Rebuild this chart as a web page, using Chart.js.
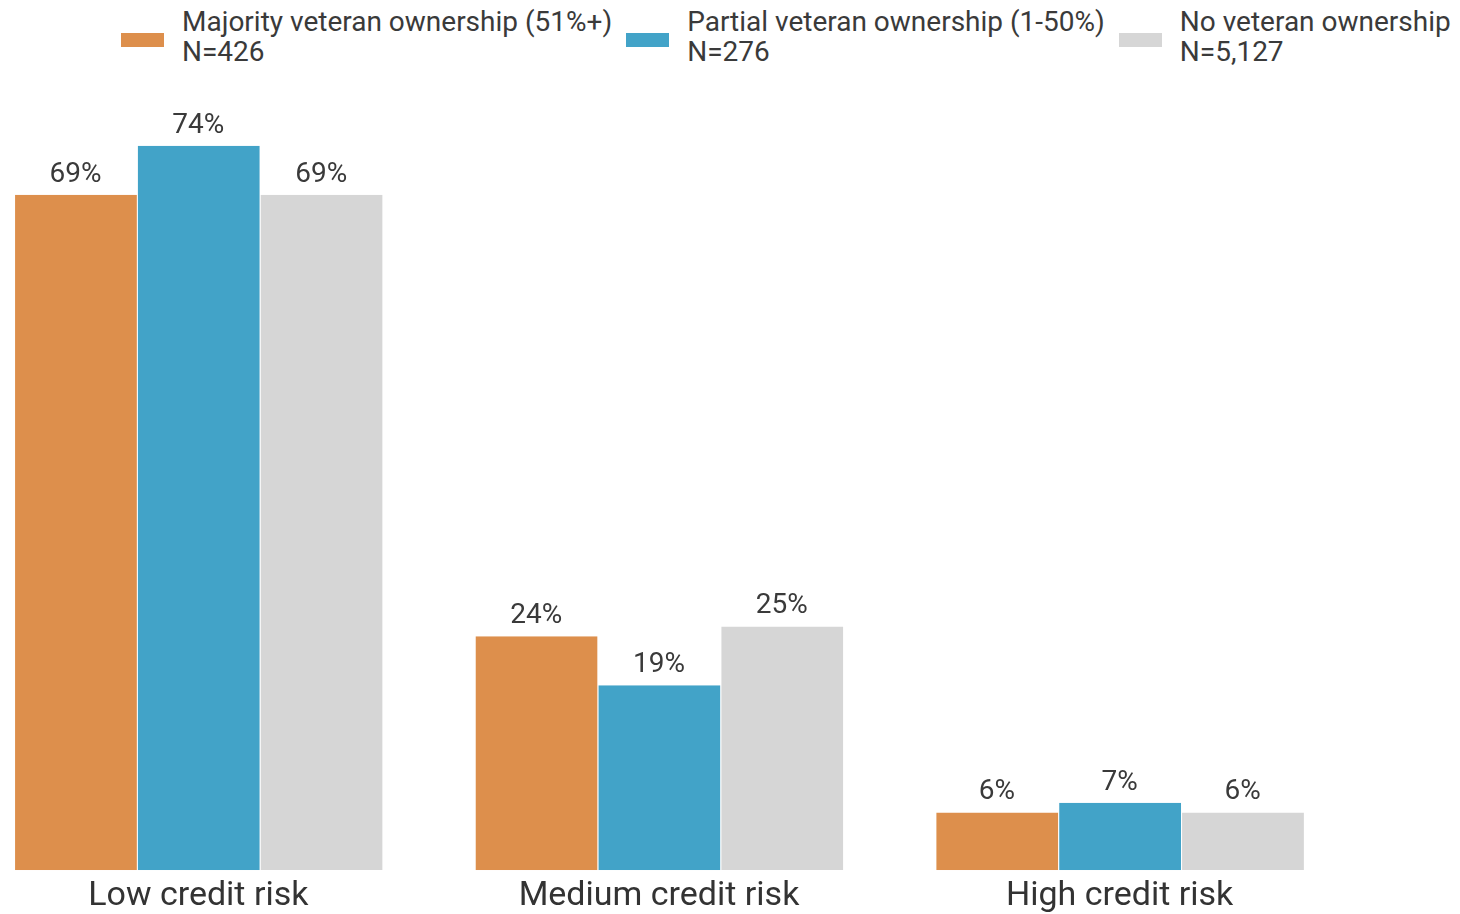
<!DOCTYPE html>
<html>
<head>
<meta charset="utf-8">
<script src="https://cdn.jsdelivr.net/npm/chart.js@4"></script>
<style>
  html, body { margin: 0; padding: 0; background: #fff; overflow: hidden; }
  body { width: 1460px; height: 914px; position: relative; font-family: Roboto, sans-serif; }
  #legend { position: absolute; left: 121px; top: 7px; display: flex; align-items: flex-start; color: #3a3a3a; font-size: 28px; line-height: 30px; white-space: nowrap; }
  .item { display: flex; align-items: flex-start; margin-right: 14px; }
  .box { width: 43px; height: 14px; margin-right: 18px; margin-top: 26px; flex: none; }
  #wrap { position: absolute; left: -32px; top: 0; width: 1382px; height: 923px; }
</style>
</head>
<body>
<div id="legend"></div>
<div id="wrap"><canvas id="riskChart"></canvas></div>
<script>
const categories = ['Low credit risk', 'Medium credit risk', 'High credit risk'];
const seriesNames = ['Majority veteran ownership (51%+)', 'Partial veteran ownership (1-50%)', 'No veteran ownership'];
const seriesCounts = ['N=426', 'N=276', 'N=5,127'];
const majorityOwned = [69, 23.9, 5.9];
const partialOwned = [74, 18.9, 6.9];
const noVeteran = [69, 24.9, 5.9];
const colors = ['#dd8f4c', '#42a3c8', '#d6d6d6'];

const seriesValues = [majorityOwned, partialOwned, noVeteran];

// leyenda en HTML para poder tener dos líneas por elemento
const legendEl = document.getElementById('legend');
seriesNames.forEach((name, i) => {
    const item = document.createElement('div');
    item.className = 'item';
    item.innerHTML = `<span class="box" style="background:${colors[i]}"></span><span>${name}<br>${seriesCounts[i]}</span>`;
    legendEl.appendChild(item);
});

// etiquetas de porcentaje encima de cada barra
const valueLabels = {
    id: 'valueLabels',
    afterDatasetsDraw(chart) {
        const ctx = chart.ctx;
        ctx.save();
        ctx.font = '28px Roboto';
        ctx.fillStyle = '#3a3a3a';
        ctx.textAlign = 'center';
        ctx.textBaseline = 'alphabetic';
        chart.data.datasets.forEach((ds, i) => {
            chart.getDatasetMeta(i).data.forEach((bar, j) => {
                ctx.fillText(Math.round(ds.data[j]) + '%', bar.x, bar.y - 13);
            });
        });
        ctx.restore();
    }
};

Chart.defaults.font.family = 'Roboto';

new Chart(document.getElementById('riskChart'), {
    type: 'bar',
    data: {
        labels: categories,
        datasets: seriesValues.map((vals, i) => ({
            label: seriesNames[i],
            data: vals,
            backgroundColor: colors[i],
            borderColor: '#ffffff',
            borderWidth: { left: 1, right: 0, top: 0, bottom: 0 },
            borderSkipped: false,
            categoryPercentage: 0.8,
            barPercentage: 1.0
        }))
    },
    options: {
        responsive: true,
        maintainAspectRatio: false,
        animation: false,
        layout: { padding: { top: 87, left: 0, right: 0, bottom: 0 } },
        scales: {
            x: {
                grid: { display: false, drawTicks: false },
                border: { display: false },
                ticks: { color: '#333333', font: { size: 34 }, padding: 6 }
            },
            y: {
                display: false,
                min: 0,
                max: 80
            }
        },
        plugins: {
            legend: { display: false },
            tooltip: { enabled: false }
        }
    },
    plugins: [valueLabels]
});
</script>
</body>
</html>
